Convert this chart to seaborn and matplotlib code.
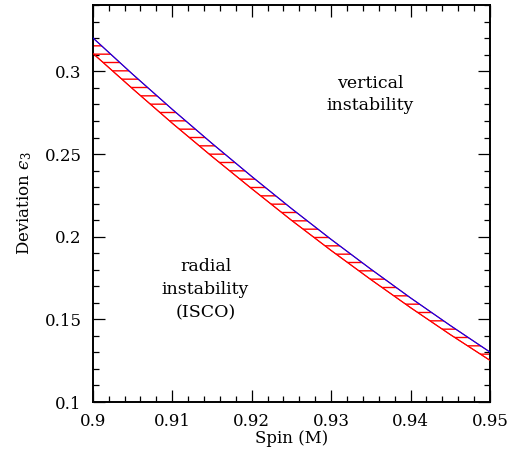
import numpy as np
import pandas as pd
import matplotlib
matplotlib.use("Agg")
import matplotlib.pyplot as plt
import seaborn as sns
from matplotlib.ticker import MultipleLocator

# ---- data ----
spin = [0.900, 0.905, 0.910, 0.915, 0.920, 0.925, 0.930, 0.935, 0.940, 0.945, 0.950]
vertical_limit = [0.3204, 0.2984, 0.2771, 0.2565, 0.2365, 0.2171, 0.1984, 0.1804, 0.1630, 0.1463, 0.1302]
radial_limit = [0.3110, 0.2896, 0.2687, 0.2486, 0.2291, 0.2100, 0.1917, 0.1741, 0.1571, 0.1408, 0.1252]
x_ticks = [0.90, 0.91, 0.92, 0.93, 0.94, 0.95]
x_tick_labels = ["0.9", "0.91", "0.92", "0.93", "0.94", "0.95"]
y_ticks = [0.10, 0.15, 0.20, 0.25, 0.30]
y_tick_labels = ["0.1", "0.15", "0.2", "0.25", "0.3"]

sns.set_theme(style="ticks")
plt.rcParams["font.family"] = ["DejaVu Serif"]
plt.rcParams["mathtext.fontset"] = "dejavuserif"
plt.rcParams["hatch.linewidth"] = 1.0
plt.rcParams["text.color"] = "black"
plt.rcParams["axes.labelcolor"] = "black"
plt.rcParams["xtick.color"] = "black"
plt.rcParams["ytick.color"] = "black"
plt.rcParams["xtick.labelcolor"] = "black"
plt.rcParams["ytick.labelcolor"] = "black"

df = pd.DataFrame({"spin": spin, "vertical": vertical_limit, "radial": radial_limit})

fig = plt.figure(figsize=(5.14, 4.54), dpi=100)
ax = fig.add_axes([0.1804, 0.1145, 0.9533 - 0.1804, 0.9883 - 0.1145])

ax.fill_between(df["spin"], df["radial"], df["vertical"], facecolor="none",
                edgecolor="#ff0000", hatch="--", linewidth=0.8, zorder=2)
sns.lineplot(data=df, x="spin", y="radial", ax=ax, color="#ff0000", lw=0.8, zorder=3)
sns.lineplot(data=df, x="spin", y="vertical", ax=ax, color="#0000ff", lw=0.8, zorder=4)

ax.set_xlim(0.9, 0.95)
ax.set_ylim(0.1, 0.34)
ax.set_xticks(x_ticks)
ax.set_xticklabels(x_tick_labels)
ax.set_yticks(y_ticks)
ax.set_yticklabels(y_tick_labels)
ax.xaxis.set_minor_locator(MultipleLocator(0.002))
ax.yaxis.set_minor_locator(MultipleLocator(0.01))
ax.tick_params(which="both", direction="in", top=True, right=True, color="black", width=0.9)
ax.tick_params(which="major", length=8.6, labelsize=12, pad=8)
ax.tick_params(which="minor", length=4.4)
for s in ax.spines.values():
    s.set_visible(True)
    s.set_linewidth(1.4)
    s.set_color("black")

ax.set_xlabel("Spin (M)", fontsize=12, labelpad=0)
ax.set_ylabel("Deviation $\u03f5_3$", fontsize=12, labelpad=8)

ax.text(0.9349, 0.286, "vertical\ninstability", ha="center", va="center",
        fontsize=12.5, linespacing=1.45)
ax.text(0.9142, 0.168, "radial\ninstability\n(ISCO)", ha="center", va="center",
        fontsize=12.5, linespacing=1.45)

fig.savefig("out.png", dpi=100)
